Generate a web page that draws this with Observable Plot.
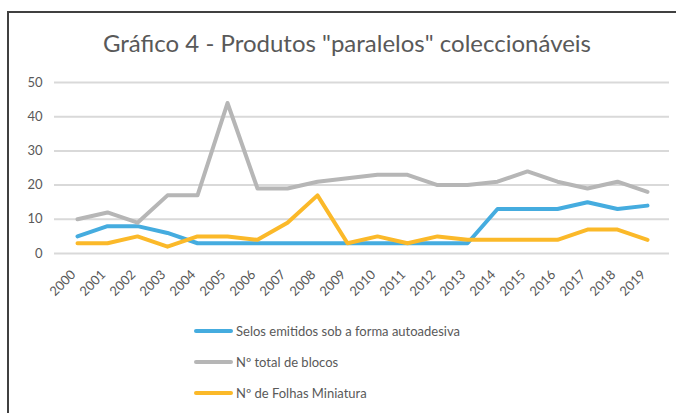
<!DOCTYPE html>
<html>
<head>
<meta charset="utf-8">
<script src="https://cdn.jsdelivr.net/npm/d3@7"></script>
<script src="https://cdn.jsdelivr.net/npm/@observablehq/plot@0.6"></script>
<style>
  html, body { margin: 0; padding: 0; background: #fff; overflow: hidden; }
  #wrap { position: relative; width: 676px; height: 413px; overflow: hidden; font-family: Lato, "Open Sans", sans-serif; }
  #frame { position: absolute; left: 7px; top: 11px; width: 669px; height: 402px; border-top: 2px solid #404040; border-left: 2px solid #404040; box-sizing: border-box; }
  #title { position: absolute; left: 0; width: 694px; top: 27px; text-align: center; font-size: 24px; color: #595959; line-height: 32px; }
  #chart { position: absolute; left: 0; top: 60px; }
  #legend { position: absolute; left: 194px; top: 315px; font-size: 13px; color: #595959; }
  .row { height: 31px; display: flex; align-items: center; }
  .sw { width: 39px; height: 4px; border-radius: 2px; margin-right: 3px; }
</style>
</head>
<body>
<div id="wrap">
  <div id="frame"></div>
  <div id="title">Gráfico 4 - Produtos "paralelos" coleccionáveis</div>
  <div id="chart"></div>
  <div id="legend"></div>
</div>
<script>
const years = ["2000","2001","2002","2003","2004","2005","2006","2007","2008","2009","2010","2011","2012","2013","2014","2015","2016","2017","2018","2019"];
const selos = [5,8,8,6,3,3,3,3,3,3,3,3,3,3,13,13,13,15,13,14];
const blocos = [10,12,9,17,17,44,19,19,21,22,23,23,20,20,21,24,21,19,21,18];
const folhas = [3,3,5,2,5,5,4,9,17,3,5,3,5,4,4,4,4,7,7,4];
const yTicks = [0,10,20,30,40,50];
const seriesNames = ["Selos emitidos sob a forma autoadesiva","Nº total de blocos","Nº de Folhas Miniatura"];
const colors = ["#45acdf","#b6b6b6","#fbb929"];

const allSeries = [selos, blocos, folhas];
const data = allSeries.flatMap((vals, s) => vals.map((v, i) => ({year: years[i], value: v, series: seriesNames[s]})));

const chart = Plot.plot({
  width: 676,
  height: 250,
  marginLeft: 54,
  marginRight: 7,
  marginTop: 22,
  marginBottom: 57,
  style: {fontFamily: "Lato, 'Open Sans', sans-serif", fontSize: "13px", color: "#595959", background: "transparent"},
  x: {type: "point", domain: years, padding: 0.5, label: null},
  y: {domain: [0, 50], label: null},
  color: {domain: seriesNames, range: colors},
  marks: [
    Plot.ruleY(yTicks, {stroke: "#d9d9d9", strokeWidth: 2}),
    Plot.axisY({ticks: yTicks, tickSize: 0, tickPadding: 12, label: null, fill: "#595959"}),
    Plot.axisX({tickSize: 0, tickRotate: -45, tickPadding: 19, dx: -4, label: null, fill: "#595959"}),
    Plot.line(data, {x: "year", y: "value", z: "series", stroke: "series", strokeWidth: 4, strokeLinejoin: "round", strokeLinecap: "round"})
  ]
});
document.getElementById("chart").appendChild(chart);

const legend = document.getElementById("legend");
seriesNames.forEach((n, i) => {
  const row = document.createElement("div");
  row.className = "row";
  const sw = document.createElement("div");
  sw.className = "sw";
  sw.style.background = colors[i];
  const t = document.createElement("span");
  t.textContent = n;
  row.appendChild(sw);
  row.appendChild(t);
  legend.appendChild(row);
});
</script>
</body>
</html>
